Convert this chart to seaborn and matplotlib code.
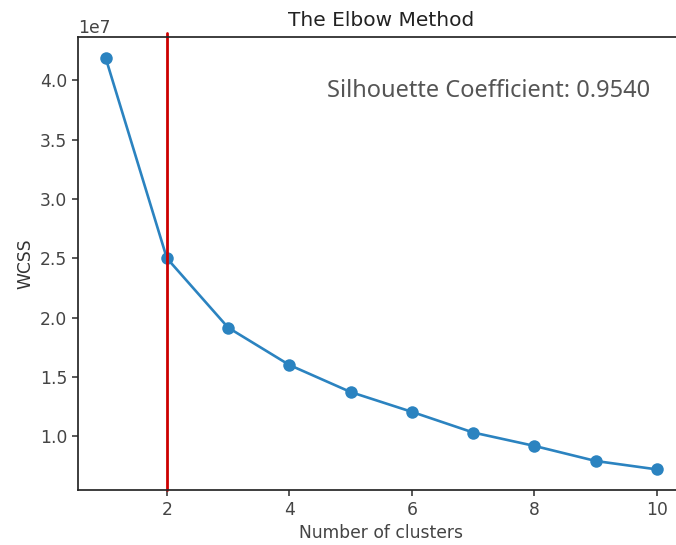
import matplotlib
matplotlib.use("Agg")
import matplotlib.pyplot as plt
import seaborn as sns
import pandas as pd

# elbow curve values
clusters = [1, 2, 3, 4, 5, 6, 7, 8, 9, 10]
wcss = [4.19e7, 2.50e7, 1.915e7, 1.60e7, 1.372e7, 1.205e7, 1.031e7, 0.918e7, 0.791e7, 0.72e7]
best_k = 2
silhouette = 0.9540

df = pd.DataFrame({"k": clusters, "wcss": wcss})

sns.set_theme(style="ticks")
plt.rcParams["font.family"] = ["DejaVu Sans"]
plt.rcParams["xtick.major.size"] = 4.3
plt.rcParams["ytick.major.size"] = 4.3
plt.rcParams["axes.titlepad"] = 8

fig = plt.figure(figsize=(6.76, 5.45), dpi=100)
ax = fig.add_axes([0.1154, 0.1009, 0.8973, 0.8311])

sns.lineplot(data=df, x="k", y="wcss", marker="o", markersize=9,
             markeredgewidth=0, color="#2b83c0", linewidth=1.9, ax=ax)
ax.axvline(best_k, ymin=0, ymax=1.01, color="#cc0000", linewidth=2, clip_on=False)

ax.set_title("The Elbow Method", fontsize=14.5, color="#222222")
ax.set_xlabel("Number of clusters", fontsize=12.3, color="#444444")
ax.set_ylabel("WCSS", fontsize=12.3, color="#333333")
ax.set_xticks([2, 4, 6, 8, 10])
ax.tick_params(labelsize=12.3, colors="#444444")
ax.yaxis.get_offset_text().set_fontsize(12.3)
ax.yaxis.get_offset_text().set_color("#444444")

ax.text(0.943, 0.882, f"Silhouette Coefficient: {silhouette:.4f}",
        transform=ax.transAxes, ha="right", va="center",
        fontsize=17, color="#555555", family=["Noto Sans", "DejaVu Sans"],
        fontweight="light")

fig.savefig("out.png", dpi=100)
